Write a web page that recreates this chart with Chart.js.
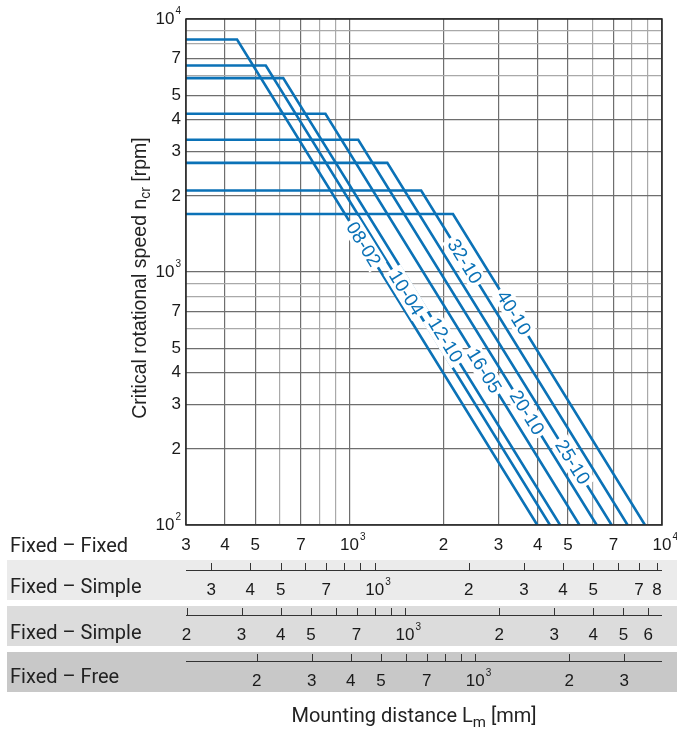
<!DOCTYPE html>
<html>
<head>
<meta charset="utf-8">
<script src="https://cdn.jsdelivr.net/npm/chart.js@4.4.1/dist/chart.umd.min.js"></script>
<style>
  body { margin: 0; background: #fff; }
  canvas { display: block; }
</style>
</head>
<body>
<canvas id="chart" width="677" height="733"></canvas>
<script>
// one line per ball screw size (d0-P)
const screwSizes = ['08-02', '10-04', '12-10', '16-05', '20-10', '25-10', '32-10', '40-10'];
// flat part: speed limit [rpm]
const maxSpeeds = [8300, 6550, 5840, 4220, 3330, 2700, 2100, 1695];
// mounting distance where the flat part ends [mm]
const kneeLengths = [437, 540, 614, 838, 1067, 1322, 1696, 2144];
// mounting distance where the line reaches 100 rpm [mm]
const endLengths = [3990, 4380, 4720, 5445, 6180, 6900, 7760, 8820];
// where the size label sits on each line [mm]
const labelLengths = [1110, 1520, 2030, 2700, 3700, 5180, 2340, 3360];

// grid + tick labels of the main chart ('' = grid line only)
const xGrid = [300, 400, 500, 600, 700, 800, 900, 1000, 2000, 3000, 4000, 5000, 6000, 7000, 8000, 9000, 10000];
const xLabels = ['3', '4', '5', '', '7', '', '', '10^3', '2', '3', '4', '5', '', '7', '', '', '10^4'];
const yGrid = [100, 200, 300, 400, 500, 600, 700, 800, 900, 1000, 2000, 3000, 4000, 5000, 6000, 7000, 8000, 9000, 10000];
const yLabels = ['10^2', '2', '3', '4', '5', '', '7', '', '', '10^3', '2', '3', '4', '5', '', '7', '', '', '10^4'];

// the other bearing arrangements, length factor against fixed-fixed
const rowNames = ['Fixed \u2013 Fixed', 'Fixed \u2013 Simple', 'Fixed \u2013 Simple', 'Fixed \u2013 Free'];
const simpleFactor = 0.83;
const simpleTicks = [300, 400, 500, 600, 700, 800, 900, 1000, 2000, 3000, 4000, 5000, 6000, 7000, 8000];
const simpleLabels = ['3', '4', '5', '', '7', '', '', '10^3', '2', '3', '4', '5', '', '7', '8'];
const simple2Factor = 0.664;
const simple2Ticks = [200, 300, 400, 500, 600, 700, 800, 900, 1000, 2000, 3000, 4000, 5000, 6000];
const simple2Labels = ['2', '3', '4', '5', '', '7', '', '', '10^3', '2', '3', '4', '5', '6'];
const freeFactor = 0.396;
const freeTicks = [200, 300, 400, 500, 600, 700, 800, 900, 1000, 2000, 3000];
const freeLabels = ['2', '3', '4', '5', '', '7', '', '', '10^3', '2', '3'];

const lineBlue = '#0b72b7';
const tickFont = '17px "Liberation Sans", Arial, sans-serif';
const supFont = '10px "Liberation Sans", Arial, sans-serif';

function drawTick(ctx, text, x, y, align) {
    var base = text, sup = '';
    if (text.indexOf('^') > 0) {
        base = text.split('^')[0];
        sup = text.split('^')[1];
    }
    ctx.font = tickFont;
    var wb = ctx.measureText(base).width;
    ctx.font = supFont;
    var ws = sup ? ctx.measureText(sup).width + 1 : 0;
    var left = align === 'right' ? x - wb - ws : x - wb / 2;
    ctx.textAlign = 'left';
    ctx.textBaseline = 'middle';
    ctx.fillStyle = '#1a1a1a';
    ctx.font = tickFont;
    ctx.fillText(base, left, y);
    if (sup) {
        ctx.font = supFont;
        ctx.fillText(sup, left + wb + 1, y - 8);
    }
}

function drawSecondaryAxis(ctx, xs, factor, ticks, labels, y) {
    ctx.strokeStyle = '#333';
    ctx.lineWidth = 1;
    ctx.beginPath();
    ctx.moveTo(xs.left, y + 0.5);
    ctx.lineTo(xs.right, y + 0.5);
    for (var i = 0; i < ticks.length; i++) {
        var px = Math.round(xs.getPixelForValue(ticks[i] / factor)) + 0.5;
        ctx.moveTo(px, y + 0.5);
        ctx.lineTo(px, y - 7);
    }
    ctx.stroke();
    for (var j = 0; j < ticks.length; j++) {
        if (labels[j]) drawTick(ctx, labels[j], xs.getPixelForValue(ticks[j] / factor), y + 20, 'center');
    }
}

const chartDecor = {
    id: 'chartDecor',
    beforeDraw(chart) {
        const ctx = chart.ctx;
        ctx.save();
        ctx.fillStyle = '#fff';
        ctx.fillRect(0, 0, chart.width, chart.height);
        ctx.fillStyle = '#ebebeb';
        ctx.fillRect(7, 560, chart.width - 7, 40);
        ctx.fillStyle = '#dcdcdc';
        ctx.fillRect(7, 606, chart.width - 7, 40);
        ctx.fillStyle = '#c8c8c8';
        ctx.fillRect(7, 652, chart.width - 7, 40);
        ctx.restore();
    },
    afterDatasetsDraw(chart) {
        const ctx = chart.ctx;
        const area = chart.chartArea;
        const xs = chart.scales.x;
        const ys = chart.scales.y;
        ctx.save();

        // frame
        ctx.strokeStyle = '#222';
        ctx.lineWidth = 1.5;
        ctx.strokeRect(area.left, area.top, area.right - area.left, area.bottom - area.top);

        // size labels along the falling part of each line
        for (var i = 0; i < screwSizes.length; i++) {
            var kx = xs.getPixelForValue(kneeLengths[i]), ky = ys.getPixelForValue(maxSpeeds[i]);
            var ex = xs.getPixelForValue(endLengths[i]), ey = ys.getPixelForValue(100);
            var lx = xs.getPixelForValue(labelLengths[i]);
            var t = (lx - kx) / (ex - kx);
            var ly = ky + t * (ey - ky);
            var angle = Math.atan2(ey - ky, ex - kx);
            ctx.save();
            ctx.translate(lx, ly);
            ctx.rotate(angle);
            ctx.font = '19px "Liberation Sans", Arial, sans-serif';
            var w = ctx.measureText(screwSizes[i]).width;
            ctx.fillStyle = '#fff';
            ctx.fillRect(-w / 2 - 3, -10, w + 6, 20);
            ctx.fillStyle = lineBlue;
            ctx.textAlign = 'center';
            ctx.textBaseline = 'middle';
            ctx.fillText(screwSizes[i], 0, 1);
            ctx.restore();
        }

        // main tick labels
        for (var a = 0; a < xGrid.length; a++) {
            if (xLabels[a]) drawTick(ctx, xLabels[a], xs.getPixelForValue(xGrid[a]), area.bottom + 20, 'center');
        }
        for (var b = 0; b < yGrid.length; b++) {
            if (yLabels[b]) drawTick(ctx, yLabels[b], area.left - 5, ys.getPixelForValue(yGrid[b]), 'right');
        }

        // other bearing arrangements
        drawSecondaryAxis(ctx, xs, simpleFactor, simpleTicks, simpleLabels, 570);
        drawSecondaryAxis(ctx, xs, simple2Factor, simple2Ticks, simple2Labels, 615);
        drawSecondaryAxis(ctx, xs, freeFactor, freeTicks, freeLabels, 661);

        ctx.font = '20px Roboto, sans-serif';
        ctx.fillStyle = '#222';
        ctx.textAlign = 'left';
        ctx.textBaseline = 'middle';
        var rowY = [547, 588, 634, 678];
        for (var r = 0; r < rowNames.length; r++) ctx.fillText(rowNames[r], 10, rowY[r]);

        // x title with subscript
        ctx.font = '20px Roboto, sans-serif';
        var p1 = 'Mounting distance L', p2 = 'm', p3 = ' [mm]';
        var w1 = ctx.measureText(p1).width, w3 = ctx.measureText(p3).width;
        ctx.font = '15px Roboto, sans-serif';
        var w2 = ctx.measureText(p2).width;
        var x0 = 414 - (w1 + w2 + w3) / 2;
        ctx.font = '20px Roboto, sans-serif';
        ctx.fillText(p1, x0, 717);
        ctx.fillText(p3, x0 + w1 + w2, 717);
        ctx.font = '15px Roboto, sans-serif';
        ctx.fillText(p2, x0 + w1, 723);

        // y title with subscript
        ctx.save();
        ctx.translate(141, 278);
        ctx.rotate(-Math.PI / 2);
        ctx.font = '19.5px "Liberation Sans", Arial, sans-serif';
        var q1 = 'Critical rotational speed n', q2 = 'cr', q3 = ' [rpm]';
        var v1 = ctx.measureText(q1).width, v3 = ctx.measureText(q3).width;
        ctx.font = '14px "Liberation Sans", Arial, sans-serif';
        var v2 = ctx.measureText(q2).width;
        var s0 = -(v1 + v2 + v3) / 2;
        ctx.font = '19.5px "Liberation Sans", Arial, sans-serif';
        ctx.fillText(q1, s0, 0);
        ctx.fillText(q3, s0 + v1 + v2, 0);
        ctx.font = '14px "Liberation Sans", Arial, sans-serif';
        ctx.fillText(q2, s0 + v1, 5);
        ctx.restore();

        ctx.restore();
    }
};

function gridColor(labels) {
    return function (c) {
        return labels[c.index] ? '#6e6e6e' : '#a9a9a9';
    };
}

new Chart(document.getElementById('chart'), {
    type: 'line',
    data: {
        datasets: screwSizes.map(function (name, i) {
            return {
                label: name,
                data: [
                    { x: 300, y: maxSpeeds[i] },
                    { x: kneeLengths[i], y: maxSpeeds[i] },
                    { x: endLengths[i], y: 100 }
                ],
                borderColor: lineBlue,
                borderWidth: 2.6,
                pointRadius: 0,
                fill: false,
                tension: 0
            };
        })
    },
    options: {
        responsive: false,
        animation: false,
        events: [],
        layout: { padding: { left: 186, right: 15, top: 19, bottom: 208 } },
        plugins: { legend: { display: false }, tooltip: { enabled: false } },
        scales: {
            x: {
                type: 'logarithmic',
                min: 300,
                max: 10000,
                afterBuildTicks: function (s) { s.ticks = xGrid.map(function (v) { return { value: v }; }); },
                afterFit: function (s) { s.height = 0; },
                ticks: { display: false },
                grid: { drawTicks: false, color: gridColor(xLabels), lineWidth: 1.2 },
                border: { display: false }
            },
            y: {
                type: 'logarithmic',
                min: 100,
                max: 10000,
                afterBuildTicks: function (s) { s.ticks = yGrid.map(function (v) { return { value: v }; }); },
                afterFit: function (s) { s.width = 0; },
                ticks: { display: false },
                grid: { drawTicks: false, color: gridColor(yLabels), lineWidth: 1.2 },
                border: { display: false }
            }
        }
    },
    plugins: [chartDecor]
});
</script>
</body>
</html>
